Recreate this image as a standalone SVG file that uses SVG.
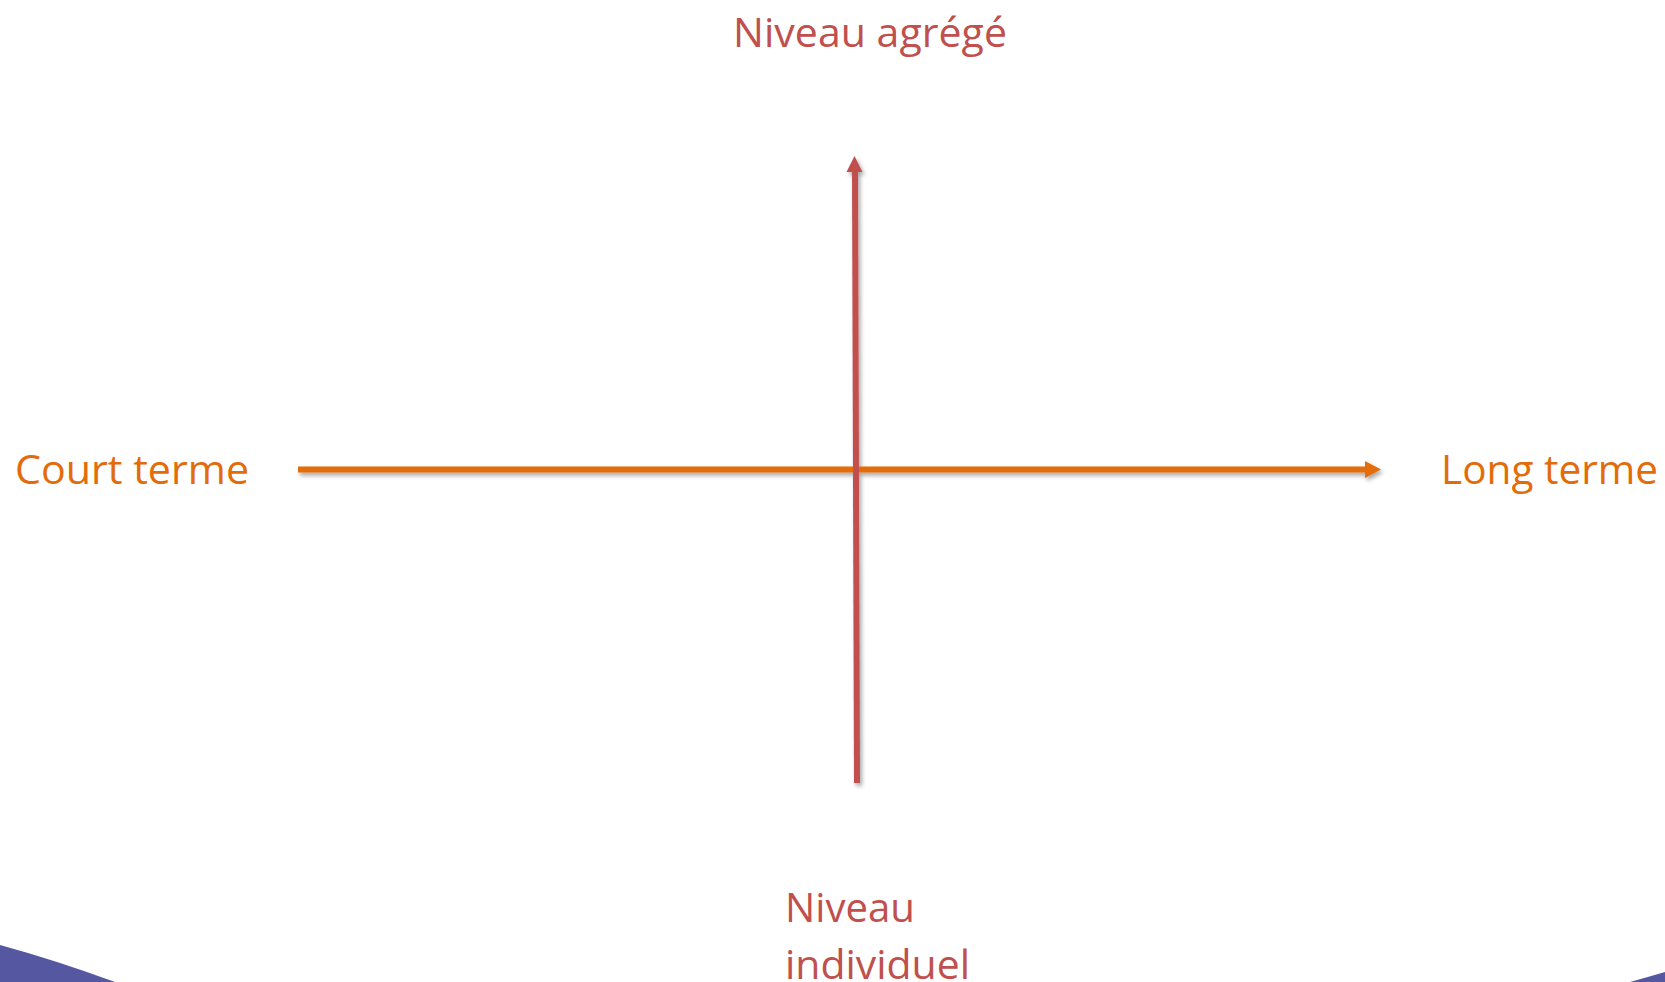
<svg xmlns="http://www.w3.org/2000/svg" width="1665" height="982" viewBox="0 0 1665 982">
<style>
text{font-family:"Open Sans","Noto Sans","Liberation Sans",sans-serif;font-size:41px}
.red{fill:#C0504D}
.org{fill:#E36C0A}
</style>
<defs>
<filter id="sh" x="-5%" y="-20%" width="110%" height="140%">
<feDropShadow dx="2" dy="3" stdDeviation="2" flood-color="#000" flood-opacity="0.35"/>
</filter>
<marker id="ar" viewBox="0 0 10 10" refX="5" refY="5" markerWidth="10" markerHeight="10" markerUnits="userSpaceOnUse" orient="auto"/>
</defs>
<rect width="1665" height="982" fill="#fff"/>
<g id="background">
<path d="M0,945 Q55,960 115,982 L0,982 Z" fill="#5558A0"/>
<path d="M1630,982 Q1648,977 1665,972 L1665,982 Z" fill="#5558A0"/>
</g>
<g id="connectors" filter="url(#sh)">
<g id="axis-horizontal">
<line x1="298" y1="469.5" x2="1366" y2="469.5" stroke="#E36C0A" stroke-width="6"/>
<polygon points="1365,461 1381,469.5 1365,478" fill="#E36C0A"/>
</g>
<g id="axis-vertical">
<line x1="857" y1="783" x2="855" y2="170" stroke="#C0504D" stroke-width="6"/>
<polygon points="846.5,172 854.5,156 862.5,172" fill="#C0504D"/>
</g>
</g>
<g id="label-top"><text class="red" x="733" y="46.7" textLength="274" lengthAdjust="spacingAndGlyphs">Niveau agrégé</text></g>
<g id="label-left"><text class="org" x="15" y="484.3" textLength="234" lengthAdjust="spacingAndGlyphs">Court terme</text></g>
<g id="label-right"><text class="org" x="1441" y="484.3" textLength="217" lengthAdjust="spacingAndGlyphs">Long terme</text></g>
<g id="label-bottom">
<text class="red" x="785" y="922.3" textLength="130" lengthAdjust="spacingAndGlyphs">Niveau</text>
<text class="red" x="785" y="979" textLength="185" lengthAdjust="spacingAndGlyphs">individuel</text>
</g>
</svg>
